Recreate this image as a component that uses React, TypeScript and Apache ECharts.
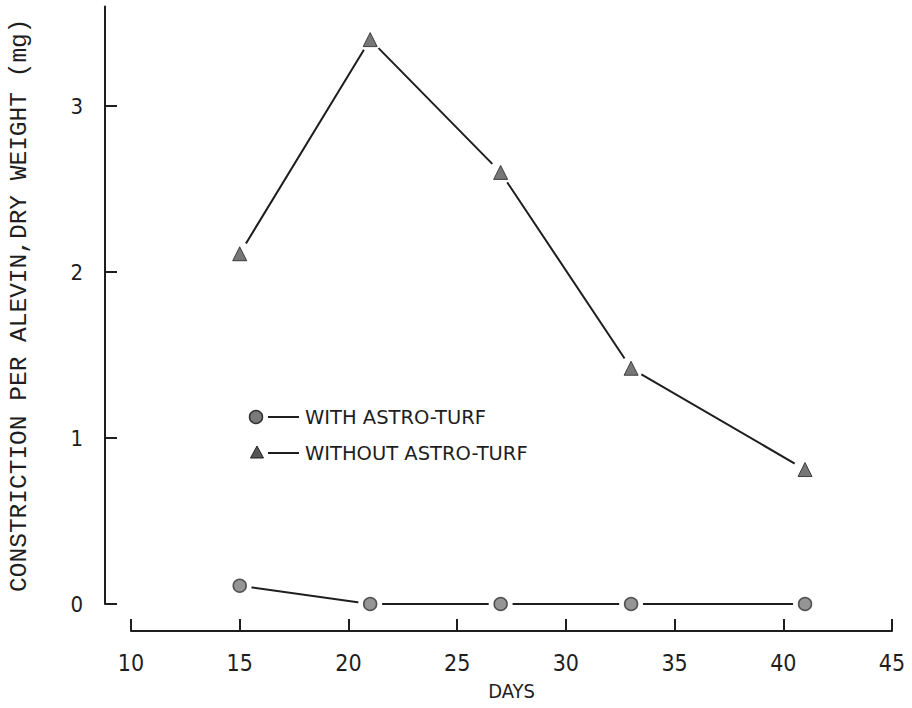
import React, { useEffect, useRef } from "react";
import * as echarts from "echarts";

const days = [15, 21, 27, 33, 41];
const withTurf = [0.11, 0, 0, 0, 0];
const withoutTurf = [2.11, 3.4, 2.6, 1.42, 0.81];
const xTicks = [10, 15, 20, 25, 30, 35, 40, 45];
const yTicks = [0, 1, 2, 3];
const seriesNames = ["WITH ASTRO-TURF", "WITHOUT ASTRO-TURF"];

const FONT = "DejaVu Sans Condensed";
const MONO = "Liberation Mono";
const INK = "#1e1e1e";

export default function App() {
  const ref = useRef<HTMLDivElement>(null);
  useEffect(() => {
    document.body.style.margin = "0";
    if (!ref.current) return;
    const chart = echarts.init(ref.current, undefined, { renderer: "svg" });
    const pair = (ys: number[]) => days.map((d, i) => [d, ys[i]]);
    const gapLine = (ys: number[]) => ({
      type: "line",
      data: pair(ys),
      symbol: "circle",
      symbolSize: 24,
      itemStyle: { color: "#fff", borderWidth: 0 },
      lineStyle: { color: INK, width: 2 },
      silent: true,
      z: 2,
    });
    chart.setOption({
      animation: false,
      backgroundColor: "#fff",
      grid: { left: 131, right: 20, top: 6.4, bottom: 104, containLabel: false, outerBoundsMode: "none" },
      xAxis: {
        type: "value",
        min: 10,
        max: 45,
        interval: 5,
        offset: 27,
        name: "DAYS",
        nameLocation: "middle",
        nameGap: 50,
        nameTextStyle: { fontFamily: FONT, fontSize: 20, color: INK },
        axisLine: { onZero: false, lineStyle: { color: INK, width: 2 } },
        axisTick: { inside: true, length: 12, lineStyle: { color: INK, width: 2 } },
        axisLabel: {
          fontFamily: FONT,
          fontSize: 23,
          color: INK,
          margin: 20,
          formatter: (v: number) => (xTicks.includes(v) ? String(v) : ""),
        },
        splitLine: { show: false },
      },
      yAxis: {
        type: "value",
        min: 0,
        max: 3.6,
        interval: 1,
        offset: 26,
        name: "CONSTRICTION PER ALEVIN,DRY WEIGHT (mg)",
        nameLocation: "middle",
        nameGap: 73,
        nameTextStyle: { fontFamily: MONO, fontSize: 24.5, color: INK },
        axisLine: { onZero: false, lineStyle: { color: INK, width: 2 } },
        axisTick: { inside: true, length: 12, lineStyle: { color: INK, width: 2 } },
        axisLabel: {
          fontFamily: FONT,
          fontSize: 22,
          color: INK,
          margin: 22,
          showMaxLabel: false,
          formatter: (v: number) => (yTicks.includes(v) ? String(v) : ""),
        },
        splitLine: { show: false },
      },
      series: [
        gapLine(withTurf),
        gapLine(withoutTurf),
        {
          name: seriesNames[0],
          type: "scatter",
          data: pair(withTurf),
          symbol: "circle",
          symbolSize: 13,
          itemStyle: { color: "#7a7a7a", borderColor: "#333", borderWidth: 1.5 },
          z: 5,
        },
        {
          name: seriesNames[1],
          type: "scatter",
          data: pair(withoutTurf),
          symbol: "triangle",
          symbolSize: 14,
          itemStyle: { color: "#555", borderColor: "#222", borderWidth: 1 },
          z: 5,
        },
      ],
      graphic: [
        { type: "circle", shape: { cx: 256, cy: 417, r: 6.5 }, style: { fill: "#7a7a7a", stroke: "#333", lineWidth: 1.5 } },
        { type: "line", shape: { x1: 268, y1: 417, x2: 299, y2: 417 }, style: { stroke: INK, lineWidth: 2 } },
        { type: "text", x: 305, y: 417, style: { text: seriesNames[0], font: `19.5px "DejaVu Sans"`, fill: INK, verticalAlign: "middle" } },
        { type: "polygon", shape: { points: [[257, 446], [250.5, 458], [263.5, 458]] }, style: { fill: "#555", stroke: "#222", lineWidth: 1 } },
        { type: "line", shape: { x1: 268, y1: 453, x2: 299, y2: 453 }, style: { stroke: INK, lineWidth: 2 } },
        { type: "text", x: 305, y: 453, style: { text: seriesNames[1], font: `19.5px "DejaVu Sans"`, fill: INK, verticalAlign: "middle" } },
      ],
    });
    return () => chart.dispose();
  }, []);
  return <div ref={ref} style={{ width: 912, height: 708 }} />;
}
